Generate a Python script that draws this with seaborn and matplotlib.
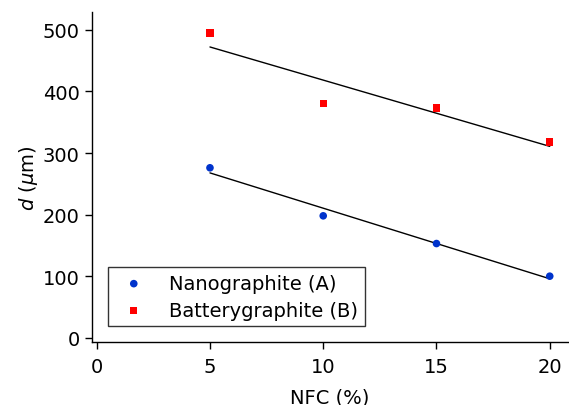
import numpy as np
import pandas as pd
import matplotlib
matplotlib.use('Agg')
import matplotlib.pyplot as plt
import seaborn as sns

nfc = [5, 10, 15, 20]
nano = [276, 198, 153, 100]
battery = [495, 380, 373, 318]

sns.set_style('ticks')
plt.rcParams['font.family'] = ['DejaVu Sans']
plt.rcParams['text.color'] = 'black'
plt.rcParams['axes.labelcolor'] = 'black'
plt.rcParams['xtick.color'] = 'black'
plt.rcParams['ytick.color'] = 'black'
fs = 14

fig = plt.figure(figsize=(5.69, 4.06), dpi=100)
ax = fig.add_axes([0.162, 0.155, 0.836, 0.813])

df_a = pd.DataFrame({'x': nfc, 'y': nano})
df_b = pd.DataFrame({'x': nfc, 'y': battery})

sns.regplot(data=df_a, x='x', y='y', ax=ax, scatter=False, ci=None, truncate=True,
            line_kws={'color': 'black', 'lw': 1})
sns.regplot(data=df_b, x='x', y='y', ax=ax, scatter=False, ci=None, truncate=True,
            line_kws={'color': 'black', 'lw': 1})
sns.scatterplot(data=df_a, x='x', y='y', ax=ax, marker='o', color='#0033cc', s=30,
                edgecolor='none', label='Nanographite (A)', zorder=3)
sns.scatterplot(data=df_b, x='x', y='y', ax=ax, marker='s', color='#ff0000', s=28,
                edgecolor='none', label='Batterygraphite (B)', zorder=3)

ax.set_xlim(-0.2, 20.8)
ax.set_ylim(-7, 529)
ax.set_xticks([0, 5, 10, 15, 20])
ax.set_yticks([0, 100, 200, 300, 400, 500])
ax.set_xlabel('NFC (%)', fontsize=fs, labelpad=8)
ax.set_ylabel(r'$d$ ($\mu$m)', fontsize=fs, labelpad=2)
ax.tick_params(direction='out', length=5, width=1, labelsize=fs, pad=4)
ax.tick_params(axis='x', pad=6)
for s in ['left', 'bottom']:
    ax.spines[s].set_linewidth(1)
    ax.spines[s].set_color('black')
ax.spines['top'].set_visible(False)
ax.spines['right'].set_visible(False)

leg = ax.legend(loc='lower left', bbox_to_anchor=(0.02, 0.03), frameon=True, fancybox=False,
                edgecolor='black', fontsize=fs, handletextpad=0.8, borderpad=0.35,
                labelspacing=0.4, borderaxespad=0.3)
leg.get_frame().set_linewidth(1)

fig.savefig('out.png', dpi=100)
